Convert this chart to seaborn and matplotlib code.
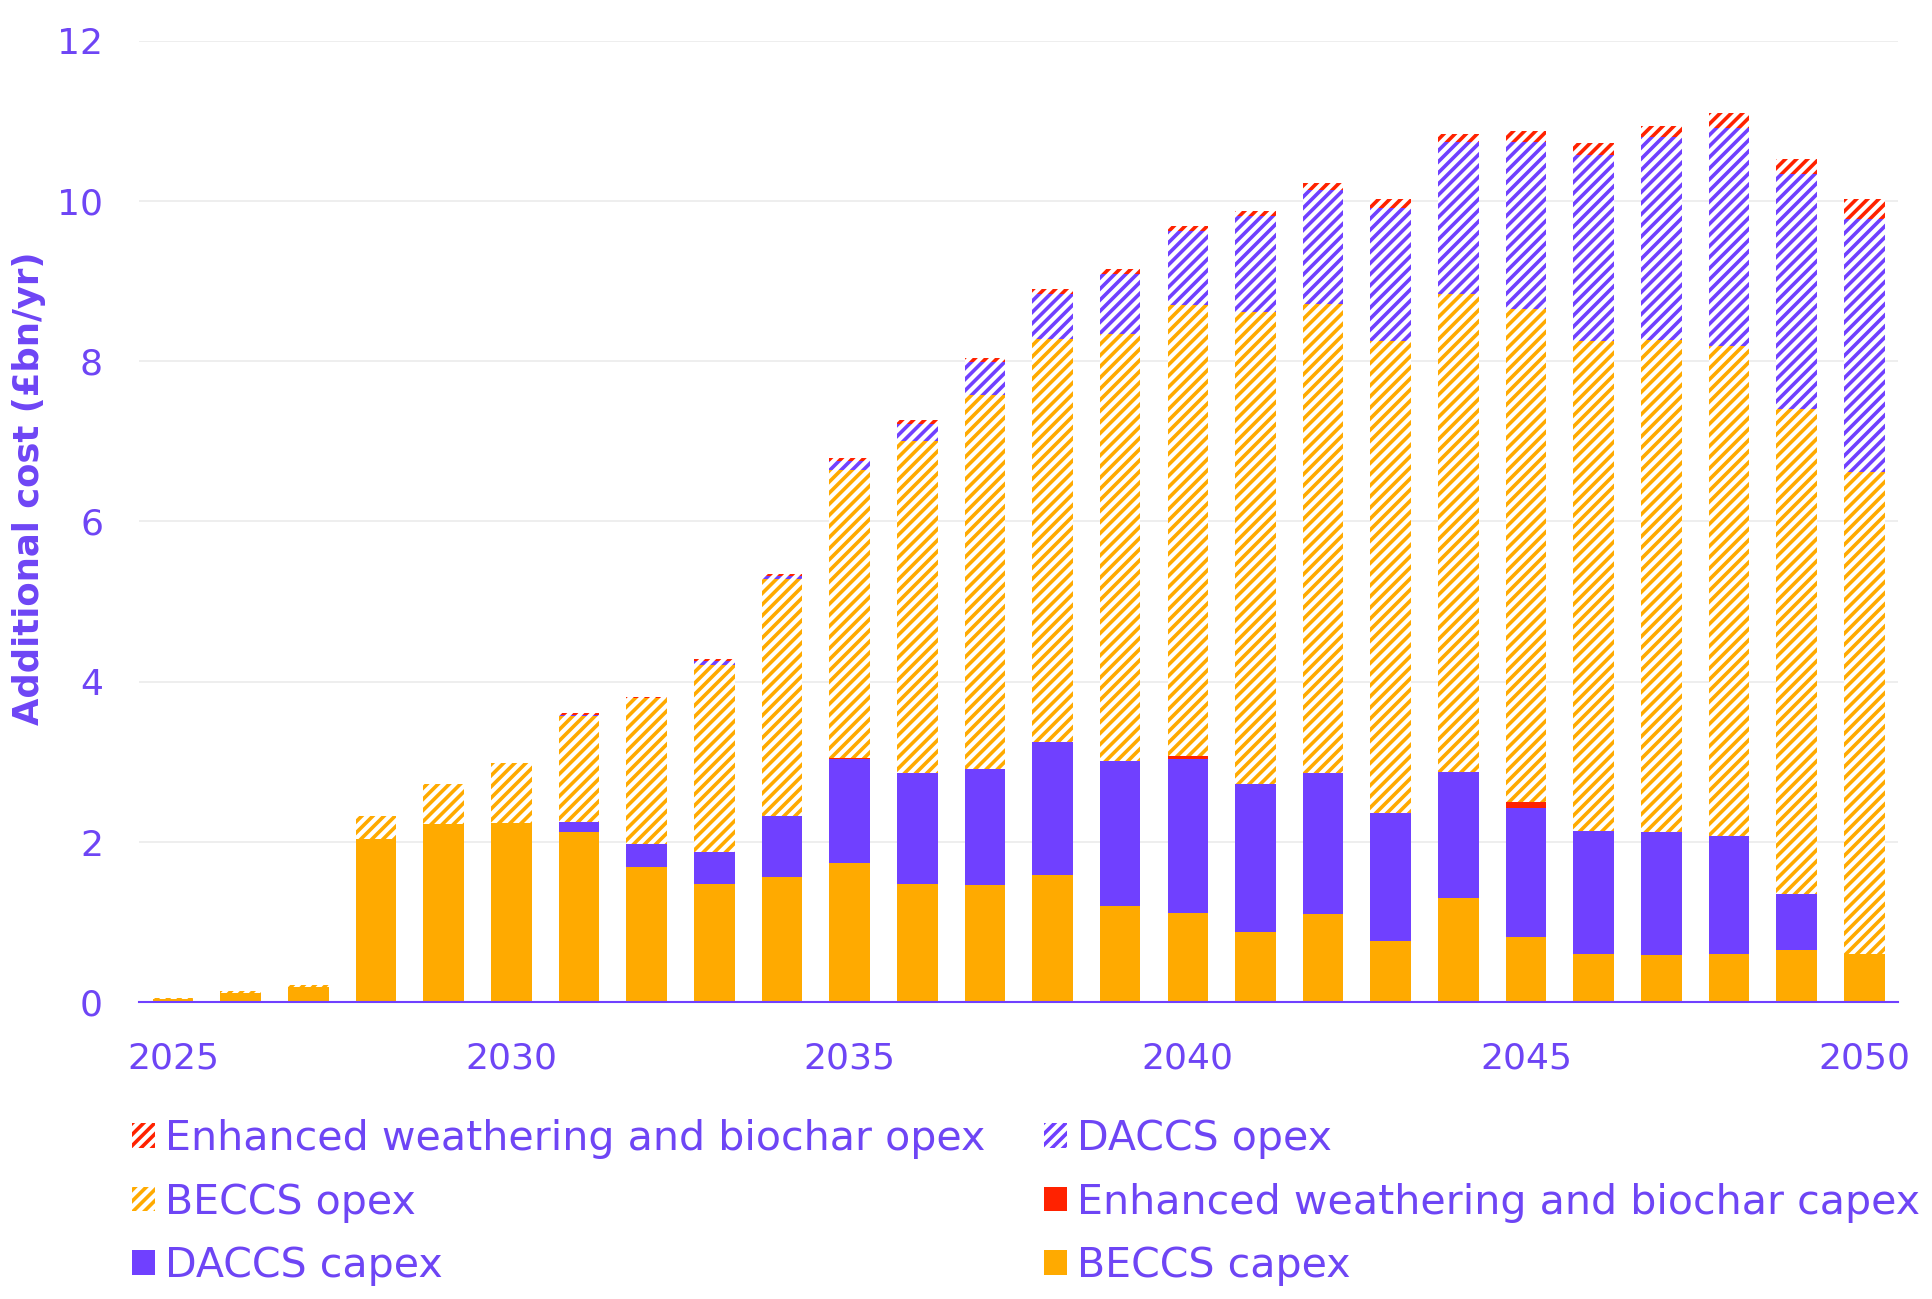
import seaborn as sns
import matplotlib.pyplot as plt
from matplotlib.patches import Patch
import numpy as np

# -----------------------------
# 1. Data (£bn/yr)
# -----------------------------
years = list(range(2025, 2051))

beccs_capex = [0.04, 0.12, 0.19, 2.04, 2.22, 2.24, 2.12, 1.69, 1.48, 1.56, 1.74, 1.48, 1.46,
               1.59, 1.20, 1.12, 0.88, 1.10, 0.77, 1.30, 0.82, 0.60, 0.59, 0.60, 0.65, 0.60]
daccs_capex = [0, 0, 0, 0, 0, 0, 0.13, 0.28, 0.40, 0.77, 1.29, 1.38, 1.45,
               1.66, 1.81, 1.91, 1.85, 1.76, 1.59, 1.58, 1.60, 1.54, 1.53, 1.48, 0.70, 0]
ew_capex = [0, 0, 0, 0, 0, 0, 0, 0, 0, 0, 0.02, 0, 0,
            0, 0, 0.04, 0, 0, 0, 0, 0.08, 0, 0, 0, 0, 0]
beccs_opex = [0.01, 0.02, 0.02, 0.28, 0.51, 0.74, 1.32, 1.83, 2.33, 2.95, 3.59, 4.14, 4.67,
              5.03, 5.33, 5.63, 5.88, 5.85, 5.89, 5.96, 6.15, 6.11, 6.15, 6.11, 6.05, 6.02]
daccs_opex = [0, 0, 0, 0, 0, 0, 0.01, 0, 0.05, 0.04, 0.11, 0.22, 0.41,
              0.56, 0.75, 0.93, 1.20, 1.43, 1.66, 1.89, 2.09, 2.32, 2.53, 2.72, 2.94, 3.15]
ew_opex = [0, 0, 0, 0, 0, 0, 0.03, 0.01, 0.02, 0.03, 0.04, 0.05, 0.05,
           0.06, 0.06, 0.06, 0.07, 0.08, 0.11, 0.10, 0.13, 0.15, 0.14, 0.19, 0.18, 0.25]

tick_years = [2025, 2030, 2035, 2040, 2045, 2050]

# -----------------------------
# 2. Theme and colours
# -----------------------------
sns.set_theme(style="white")
plt.rcParams["font.family"] = ["DejaVu Sans"]
plt.rcParams["hatch.linewidth"] = 2.6

orange = "#FFAA00"
purple = "#7040FF"
red = "#FF2200"
text_purple = "#6E45F5"

layers = [
    ("BECCS capex", beccs_capex, orange, False),
    ("DACCS capex", daccs_capex, purple, False),
    ("Enhanced weathering and biochar capex", ew_capex, red, False),
    ("BECCS opex", beccs_opex, orange, True),
    ("DACCS opex", daccs_opex, purple, True),
    ("Enhanced weathering and biochar opex", ew_opex, red, True),
]

# -----------------------------
# 3. Stacked bars
# -----------------------------
fig = plt.figure(figsize=(19.33, 12.99), dpi=100)
ax = fig.add_axes([0.072, 0.2284, 0.910, 0.7403])

bottom = np.zeros(len(years))
for name, vals, col, hatched in layers:
    vals = np.array(vals, dtype=float)
    if hatched:
        sns.barplot(x=years, y=vals, bottom=bottom, color=col, facecolor="white",
                    edgecolor=col, hatch="///", linewidth=0, width=0.6, ax=ax)
    else:
        sns.barplot(x=years, y=vals, bottom=bottom, color=col, facecolor=col,
                    edgecolor=col, linewidth=0, width=0.6, ax=ax)
    bottom += vals

# -----------------------------
# 4. Axes styling
# -----------------------------
ax.set_xlim(-0.5, len(years) - 0.5)
ax.set_ylim(0, 12)
ax.set_yticks(range(0, 13, 2))
ax.set_xticks([years.index(y) for y in tick_years])
ax.set_xticklabels([str(y) for y in tick_years])
ax.tick_params(axis="both", length=0, labelsize=26, colors=text_purple)
ax.tick_params(axis="y", pad=26)
ax.tick_params(axis="x", pad=28)
ax.yaxis.grid(True, color="#EBEBEB", linewidth=1.2)
ax.set_axisbelow(True)
for side in ["top", "right", "left"]:
    ax.spines[side].set_visible(False)
ax.spines["bottom"].set_color(purple)
ax.spines["bottom"].set_linewidth(1.5)
ax.set_xlabel("")
ax.set_ylabel("Additional cost (£bn/yr)", fontsize=25.5, fontweight="bold",
              color=text_purple, labelpad=12)
ax.yaxis.set_label_coords(-0.053, 0.535)

# -----------------------------
# 5. Legend (row order as in the original)
# -----------------------------
handles = {}
for name, vals, col, hatched in layers:
    if hatched:
        handles[name] = Patch(facecolor="white", edgecolor=col, hatch="///", linewidth=0)
    else:
        handles[name] = Patch(facecolor=col, edgecolor=col, linewidth=0)

order = [
    "Enhanced weathering and biochar opex", "BECCS opex", "DACCS capex",
    "DACCS opex", "Enhanced weathering and biochar capex", "BECCS capex",
]
fig.legend([handles[n] for n in order], order, loc="upper left",
           bbox_to_anchor=(0.0685, 0.1385), ncol=2, frameon=False,
           fontsize=29.6, labelcolor=text_purple, handlelength=0.55, handleheight=0.55,
           handletextpad=0.24, columnspacing=1.43, labelspacing=0.57, borderpad=0,
           borderaxespad=0)

plt.savefig("out.png", dpi=100, facecolor="white")
plt.close()
